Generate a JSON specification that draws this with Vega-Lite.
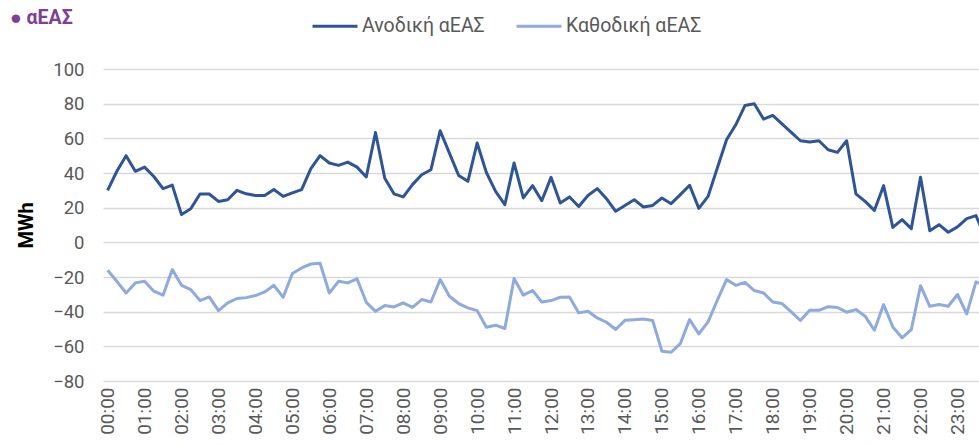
{
"$schema":"https://vega.github.io/schema/vega-lite/v6.json",
"width":876,"height":312,
"autosize":{"type":"none"},
"padding":{"left":103,"top":69,"right":0,"bottom":64},
"background":"white",
"config":{"view":{"stroke":null},"font":"Roboto"},
"title":{"text":"● αΕΑΣ","anchor":"start","frame":"group","fontSize":19.5,"fontWeight":"bold","color":"#7F3F98","dx":-93,"dy":36,"offset":10},
"data":{"format":{"parse":{"t":"date:'%H:%M'"}},"values":[
{"t":"00:00","s":"Ανοδική αΕΑΣ","v":30},{"t":"00:15","s":"Ανοδική αΕΑΣ","v":41},{"t":"00:30","s":"Ανοδική αΕΑΣ","v":50},{"t":"00:45","s":"Ανοδική αΕΑΣ","v":41},
{"t":"01:00","s":"Ανοδική αΕΑΣ","v":43.4},{"t":"01:15","s":"Ανοδική αΕΑΣ","v":38},{"t":"01:30","s":"Ανοδική αΕΑΣ","v":31},{"t":"01:45","s":"Ανοδική αΕΑΣ","v":33},
{"t":"02:00","s":"Ανοδική αΕΑΣ","v":16},{"t":"02:15","s":"Ανοδική αΕΑΣ","v":19.4},{"t":"02:30","s":"Ανοδική αΕΑΣ","v":27.9},{"t":"02:45","s":"Ανοδική αΕΑΣ","v":27.9},
{"t":"03:00","s":"Ανοδική αΕΑΣ","v":23.6},{"t":"03:15","s":"Ανοδική αΕΑΣ","v":24.6},{"t":"03:30","s":"Ανοδική αΕΑΣ","v":30},{"t":"03:45","s":"Ανοδική αΕΑΣ","v":28},
{"t":"04:00","s":"Ανοδική αΕΑΣ","v":27},{"t":"04:15","s":"Ανοδική αΕΑΣ","v":27},{"t":"04:30","s":"Ανοδική αΕΑΣ","v":30.5},{"t":"04:45","s":"Ανοδική αΕΑΣ","v":26.5},
{"t":"05:00","s":"Ανοδική αΕΑΣ","v":28.5},{"t":"05:15","s":"Ανοδική αΕΑΣ","v":30.4},{"t":"05:30","s":"Ανοδική αΕΑΣ","v":42.5},{"t":"05:45","s":"Ανοδική αΕΑΣ","v":50},
{"t":"06:00","s":"Ανοδική αΕΑΣ","v":45.8},{"t":"06:15","s":"Ανοδική αΕΑΣ","v":44.4},{"t":"06:30","s":"Ανοδική αΕΑΣ","v":46.3},{"t":"06:45","s":"Ανοδική αΕΑΣ","v":43.4},
{"t":"07:00","s":"Ανοδική αΕΑΣ","v":37.7},{"t":"07:15","s":"Ανοδική αΕΑΣ","v":63.4},{"t":"07:30","s":"Ανοδική αΕΑΣ","v":37},{"t":"07:45","s":"Ανοδική αΕΑΣ","v":28},
{"t":"08:00","s":"Ανοδική αΕΑΣ","v":26.2},{"t":"08:15","s":"Ανοδική αΕΑΣ","v":33.3},{"t":"08:30","s":"Ανοδική αΕΑΣ","v":39},{"t":"08:45","s":"Ανοδική αΕΑΣ","v":41.9},
{"t":"09:00","s":"Ανοδική αΕΑΣ","v":64.4},{"t":"09:15","s":"Ανοδική αΕΑΣ","v":51.5},{"t":"09:30","s":"Ανοδική αΕΑΣ","v":38.6},{"t":"09:45","s":"Ανοδική αΕΑΣ","v":35.2},
{"t":"10:00","s":"Ανοδική αΕΑΣ","v":57.3},{"t":"10:15","s":"Ανοδική αΕΑΣ","v":40.3},{"t":"10:30","s":"Ανοδική αΕΑΣ","v":29.4},{"t":"10:45","s":"Ανοδική αΕΑΣ","v":21.7},
{"t":"11:00","s":"Ανοδική αΕΑΣ","v":45.8},{"t":"11:15","s":"Ανοδική αΕΑΣ","v":25.6},{"t":"11:30","s":"Ανοδική αΕΑΣ","v":32.7},{"t":"11:45","s":"Ανοδική αΕΑΣ","v":24},
{"t":"12:00","s":"Ανοδική αΕΑΣ","v":37.5},{"t":"12:15","s":"Ανοδική αΕΑΣ","v":22.7},{"t":"12:30","s":"Ανοδική αΕΑΣ","v":26.2},{"t":"12:45","s":"Ανοδική αΕΑΣ","v":20.7},
{"t":"13:00","s":"Ανοδική αΕΑΣ","v":27},{"t":"13:15","s":"Ανοδική αΕΑΣ","v":31},{"t":"13:30","s":"Ανοδική αΕΑΣ","v":25.2},{"t":"13:45","s":"Ανοδική αΕΑΣ","v":17.9},
{"t":"14:00","s":"Ανοδική αΕΑΣ","v":21.2},{"t":"14:15","s":"Ανοδική αΕΑΣ","v":24.6},{"t":"14:30","s":"Ανοδική αΕΑΣ","v":20.4},{"t":"14:45","s":"Ανοδική αΕΑΣ","v":21.3},
{"t":"15:00","s":"Ανοδική αΕΑΣ","v":25.6},{"t":"15:15","s":"Ανοδική αΕΑΣ","v":22.3},{"t":"15:30","s":"Ανοδική αΕΑΣ","v":27.5},{"t":"15:45","s":"Ανοδική αΕΑΣ","v":32.9},
{"t":"16:00","s":"Ανοδική αΕΑΣ","v":19.6},{"t":"16:15","s":"Ανοδική αΕΑΣ","v":26.5},{"t":"16:30","s":"Ανοδική αΕΑΣ","v":42.9},{"t":"16:45","s":"Ανοδική αΕΑΣ","v":59.2},
{"t":"17:00","s":"Ανοδική αΕΑΣ","v":67.8},{"t":"17:15","s":"Ανοδική αΕΑΣ","v":79},{"t":"17:30","s":"Ανοδική αΕΑΣ","v":79.9},{"t":"17:45","s":"Ανοδική αΕΑΣ","v":71.1},
{"t":"18:00","s":"Ανοδική αΕΑΣ","v":73.2},{"t":"18:15","s":"Ανοδική αΕΑΣ","v":68.4},{"t":"18:30","s":"Ανοδική αΕΑΣ","v":63.4},{"t":"18:45","s":"Ανοδική αΕΑΣ","v":58.6},
{"t":"19:00","s":"Ανοδική αΕΑΣ","v":57.9},{"t":"19:15","s":"Ανοδική αΕΑΣ","v":58.6},{"t":"19:30","s":"Ανοδική αΕΑΣ","v":53.4},{"t":"19:45","s":"Ανοδική αΕΑΣ","v":51.9},
{"t":"20:00","s":"Ανοδική αΕΑΣ","v":58.6},{"t":"20:15","s":"Ανοδική αΕΑΣ","v":28},{"t":"20:30","s":"Ανοδική αΕΑΣ","v":23.6},{"t":"20:45","s":"Ανοδική αΕΑΣ","v":18.4},
{"t":"21:00","s":"Ανοδική αΕΑΣ","v":32.7},{"t":"21:15","s":"Ανοδική αΕΑΣ","v":8.6},{"t":"21:30","s":"Ανοδική αΕΑΣ","v":13.1},{"t":"21:45","s":"Ανοδική αΕΑΣ","v":7.9},
{"t":"22:00","s":"Ανοδική αΕΑΣ","v":37.5},{"t":"22:15","s":"Ανοδική αΕΑΣ","v":6.7},{"t":"22:30","s":"Ανοδική αΕΑΣ","v":10.2},{"t":"22:45","s":"Ανοδική αΕΑΣ","v":5.8},
{"t":"23:00","s":"Ανοδική αΕΑΣ","v":8.9},{"t":"23:15","s":"Ανοδική αΕΑΣ","v":13.7},{"t":"23:30","s":"Ανοδική αΕΑΣ","v":15.4},{"t":"23:45","s":"Ανοδική αΕΑΣ","v":3},
{"t":"00:00","s":"Καθοδική αΕΑΣ","v":-16.1},{"t":"00:15","s":"Καθοδική αΕΑΣ","v":-22.5},{"t":"00:30","s":"Καθοδική αΕΑΣ","v":-29.2},{"t":"00:45","s":"Καθοδική αΕΑΣ","v":-23.4},
{"t":"01:00","s":"Καθοδική αΕΑΣ","v":-22.5},{"t":"01:15","s":"Καθοδική αΕΑΣ","v":-28.2},{"t":"01:30","s":"Καθοδική αΕΑΣ","v":-30.5},{"t":"01:45","s":"Καθοδική αΕΑΣ","v":-15.7},
{"t":"02:00","s":"Καθοδική αΕΑΣ","v":-24.8},{"t":"02:15","s":"Καθοδική αΕΑΣ","v":-27.3},{"t":"02:30","s":"Καθοδική αΕΑΣ","v":-33.6},{"t":"02:45","s":"Καθοδική αΕΑΣ","v":-31.5},
{"t":"03:00","s":"Καθοδική αΕΑΣ","v":-39.4},{"t":"03:15","s":"Καθοδική αΕΑΣ","v":-34.9},{"t":"03:30","s":"Καθοδική αΕΑΣ","v":-32.4},{"t":"03:45","s":"Καθοδική αΕΑΣ","v":-31.9},
{"t":"04:00","s":"Καθοδική αΕΑΣ","v":-30.7},{"t":"04:15","s":"Καθοδική αΕΑΣ","v":-28.6},{"t":"04:30","s":"Καθοδική αΕΑΣ","v":-24.8},{"t":"04:45","s":"Καθοδική αΕΑΣ","v":-31.7},
{"t":"05:00","s":"Καθοδική αΕΑΣ","v":-18},{"t":"05:15","s":"Καθοδική αΕΑΣ","v":-14.8},{"t":"05:30","s":"Καθοδική αΕΑΣ","v":-12.5},{"t":"05:45","s":"Καθοδική αΕΑΣ","v":-12.1},
{"t":"06:00","s":"Καθοδική αΕΑΣ","v":-29.2},{"t":"06:15","s":"Καθοδική αΕΑΣ","v":-22.5},{"t":"06:30","s":"Καθοδική αΕΑΣ","v":-23.4},{"t":"06:45","s":"Καθοδική αΕΑΣ","v":-21.1},
{"t":"07:00","s":"Καθοδική αΕΑΣ","v":-34.6},{"t":"07:15","s":"Καθοδική αΕΑΣ","v":-39.8},{"t":"07:30","s":"Καθοδική αΕΑΣ","v":-36.5},{"t":"07:45","s":"Καθοδική αΕΑΣ","v":-37.3},
{"t":"08:00","s":"Καθοδική αΕΑΣ","v":-34.9},{"t":"08:15","s":"Καθοδική αΕΑΣ","v":-37.5},{"t":"08:30","s":"Καθοδική αΕΑΣ","v":-33},{"t":"08:45","s":"Καθοδική αΕΑΣ","v":-34.4},
{"t":"09:00","s":"Καθοδική αΕΑΣ","v":-21.5},{"t":"09:15","s":"Καθοδική αΕΑΣ","v":-31.1},{"t":"09:30","s":"Καθοδική αΕΑΣ","v":-35.3},{"t":"09:45","s":"Καθοδική αΕΑΣ","v":-37.8},
{"t":"10:00","s":"Καθοδική αΕΑΣ","v":-39.4},{"t":"10:15","s":"Καθοδική αΕΑΣ","v":-49},{"t":"10:30","s":"Καθοδική αΕΑΣ","v":-47.8},{"t":"10:45","s":"Καθοδική αΕΑΣ","v":-49.7},
{"t":"11:00","s":"Καθοδική αΕΑΣ","v":-20.9},{"t":"11:15","s":"Καθοδική αΕΑΣ","v":-30.5},{"t":"11:30","s":"Καθοδική αΕΑΣ","v":-27.8},{"t":"11:45","s":"Καθοδική αΕΑΣ","v":-34.4},
{"t":"12:00","s":"Καθοδική αΕΑΣ","v":-33.6},{"t":"12:15","s":"Καθοδική αΕΑΣ","v":-31.7},{"t":"12:30","s":"Καθοδική αΕΑΣ","v":-31.5},{"t":"12:45","s":"Καθοδική αΕΑΣ","v":-40.7},
{"t":"13:00","s":"Καθοδική αΕΑΣ","v":-39.8},{"t":"13:15","s":"Καθοδική αΕΑΣ","v":-43.6},{"t":"13:30","s":"Καθοδική αΕΑΣ","v":-46.1},{"t":"13:45","s":"Καθοδική αΕΑΣ","v":-50.3},
{"t":"14:00","s":"Καθοδική αΕΑΣ","v":-45},{"t":"14:15","s":"Καθοδική αΕΑΣ","v":-44.6},{"t":"14:30","s":"Καθοδική αΕΑΣ","v":-44.2},{"t":"14:45","s":"Καθοδική αΕΑΣ","v":-45.1},
{"t":"15:00","s":"Καθοδική αΕΑΣ","v":-62.8},{"t":"15:15","s":"Καθοδική αΕΑΣ","v":-63.4},{"t":"15:30","s":"Καθοδική αΕΑΣ","v":-58.4},{"t":"15:45","s":"Καθοδική αΕΑΣ","v":-44.6},
{"t":"16:00","s":"Καθοδική αΕΑΣ","v":-52.8},{"t":"16:15","s":"Καθοδική αΕΑΣ","v":-45.9},{"t":"16:30","s":"Καθοδική αΕΑΣ","v":-33.4},{"t":"16:45","s":"Καθοδική αΕΑΣ","v":-21.5},
{"t":"17:00","s":"Καθοδική αΕΑΣ","v":-24.8},{"t":"17:15","s":"Καθοδική αΕΑΣ","v":-23.1},{"t":"17:30","s":"Καθοδική αΕΑΣ","v":-27.8},{"t":"17:45","s":"Καθοδική αΕΑΣ","v":-29.2},
{"t":"18:00","s":"Καθοδική αΕΑΣ","v":-34.4},{"t":"18:15","s":"Καθοδική αΕΑΣ","v":-35.3},{"t":"18:30","s":"Καθοδική αΕΑΣ","v":-40.1},{"t":"18:45","s":"Καθοδική αΕΑΣ","v":-45.1},
{"t":"19:00","s":"Καθοδική αΕΑΣ","v":-39.2},{"t":"19:15","s":"Καθοδική αΕΑΣ","v":-39.2},{"t":"19:30","s":"Καθοδική αΕΑΣ","v":-37.1},{"t":"19:45","s":"Καθοδική αΕΑΣ","v":-37.6},
{"t":"20:00","s":"Καθοδική αΕΑΣ","v":-40.3},{"t":"20:15","s":"Καθοδική αΕΑΣ","v":-38.8},{"t":"20:30","s":"Καθοδική αΕΑΣ","v":-42.6},{"t":"20:45","s":"Καθοδική αΕΑΣ","v":-50.7},
{"t":"21:00","s":"Καθοδική αΕΑΣ","v":-35.9},{"t":"21:15","s":"Καθοδική αΕΑΣ","v":-48.8},{"t":"21:30","s":"Καθοδική αΕΑΣ","v":-55.1},{"t":"21:45","s":"Καθοδική αΕΑΣ","v":-50.3},
{"t":"22:00","s":"Καθοδική αΕΑΣ","v":-25},{"t":"22:15","s":"Καθοδική αΕΑΣ","v":-36.9},{"t":"22:30","s":"Καθοδική αΕΑΣ","v":-35.9},{"t":"22:45","s":"Καθοδική αΕΑΣ","v":-36.9},
{"t":"23:00","s":"Καθοδική αΕΑΣ","v":-30.1},{"t":"23:15","s":"Καθοδική αΕΑΣ","v":-41.3},{"t":"23:30","s":"Καθοδική αΕΑΣ","v":-22.8},{"t":"23:45","s":"Καθοδική αΕΑΣ","v":-25}
]},
"mark":{"type":"line","strokeWidth":3,"clip":true,"strokeJoin":"round"},
"encoding":{
"x":{"field":"t","type":"temporal",
"scale":{"domain":[{"year":1899,"month":12,"date":31,"hours":23,"minutes":52,"seconds":30},{"year":1900,"month":1,"date":1,"hours":23,"minutes":34,"seconds":55}]},
"axis":{"title":null,"format":"%H:%M","labelAngle":-90,"labelFontSize":19,"labelColor":"#595959","ticks":false,"domain":false,"grid":false,"labelPadding":6,"labelFlush":false,"labelOverlap":false,"labelFont":"Roboto",
"values":[{"year":1900,"month":1,"date":1,"hours":0},{"year":1900,"month":1,"date":1,"hours":1},{"year":1900,"month":1,"date":1,"hours":2},{"year":1900,"month":1,"date":1,"hours":3},{"year":1900,"month":1,"date":1,"hours":4},{"year":1900,"month":1,"date":1,"hours":5},{"year":1900,"month":1,"date":1,"hours":6},{"year":1900,"month":1,"date":1,"hours":7},{"year":1900,"month":1,"date":1,"hours":8},{"year":1900,"month":1,"date":1,"hours":9},{"year":1900,"month":1,"date":1,"hours":10},{"year":1900,"month":1,"date":1,"hours":11},{"year":1900,"month":1,"date":1,"hours":12},{"year":1900,"month":1,"date":1,"hours":13},{"year":1900,"month":1,"date":1,"hours":14},{"year":1900,"month":1,"date":1,"hours":15},{"year":1900,"month":1,"date":1,"hours":16},{"year":1900,"month":1,"date":1,"hours":17},{"year":1900,"month":1,"date":1,"hours":18},{"year":1900,"month":1,"date":1,"hours":19},{"year":1900,"month":1,"date":1,"hours":20},{"year":1900,"month":1,"date":1,"hours":21},{"year":1900,"month":1,"date":1,"hours":22},{"year":1900,"month":1,"date":1,"hours":23}]}},
"y":{"field":"v","type":"quantitative","scale":{"domain":[-80,100],"nice":false,"zero":false},
"axis":{"title":"MWh","titleFontSize":20,"titleFontWeight":"bold","titleColor":"#000000","titleFont":"Roboto","titlePadding":16,"labelFontSize":18.5,"labelColor":"#595959","labelFont":"Roboto","labelPadding":19,"ticks":false,"domain":false,"gridColor":"#D9D9D9","gridWidth":1.3,"values":[-80,-60,-40,-20,0,20,40,60,80,100]}},
"color":{"field":"s","type":"nominal","sort":["Ανοδική αΕΑΣ","Καθοδική αΕΑΣ"],
"scale":{"domain":["Ανοδική αΕΑΣ","Καθοδική αΕΑΣ"],"range":["#2F5597","#8FAADC"]},
"legend":{"orient":"none","legendX":208,"legendY":-67,"direction":"horizontal","title":null,"symbolType":"stroke","symbolSize":2025,"symbolStrokeWidth":3,"labelFontSize":19.5,"labelColor":"#595959","labelFont":"Roboto","labelOffset":3,"columnPadding":25,"labelLimit":300}}
}
}
